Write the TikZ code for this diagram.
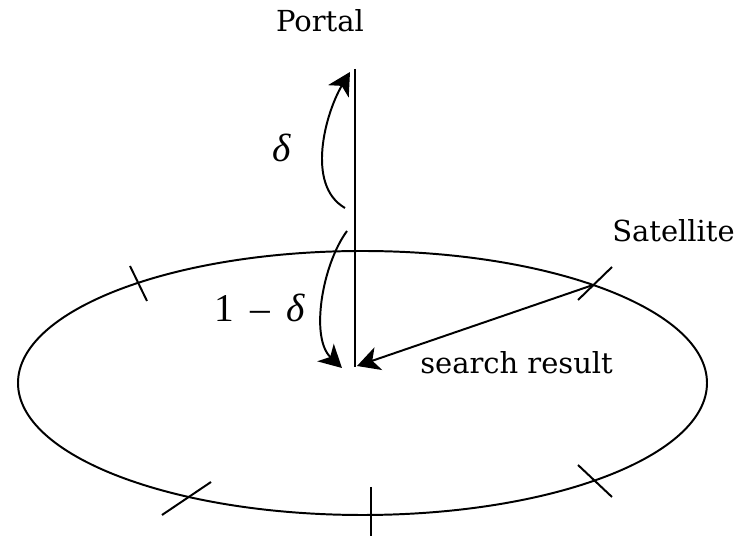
\documentclass[tikz,border=0pt]{standalone}
\usepackage{fontspec}
\setmainfont{DejaVu Serif}
\newfontfamily\greekfont{Liberation Serif}
\usepackage{tikz}
\usetikzlibrary{arrows.meta, positioning, calc}

\begin{document}
\begin{tikzpicture}[x=0.025cm, y=-0.025cm,
    lbl/.style={inner sep=0pt, font=\fontsize{20.6}{24}\selectfont},
    dlbl/.style={inner sep=0pt, font=\fontsize{28}{32}\selectfont\greekfont},
    arr/.style={-{Stealth[length=16pt, width=17pt, inset=4.5pt]}, line width=1.4pt},
    tick/.style={line width=1.4pt}
  ]
    \useasboundingbox (0,0) rectangle (752,536);

    \coordinate (top) at (355,69);
    \coordinate (hub) at (355,367);
    \coordinate (hit) at (357,366);
    \coordinate (sat) at (593,285);
    \coordinate (dfrom) at (345,208);
    \coordinate (dto) at (350,72);
    \coordinate (rfrom) at (347,231);
    \coordinate (rto) at (342,368);

    % ring of satellites
    \draw[tick] (362.5,383) ellipse [x radius=344.5, y radius=132];
    \draw[tick] (top) -- (hub);

    % ticks on the ring
    \draw[tick] (130,266) -- (147,301);
    \draw[tick] (578,300) -- (612,267);
    \draw[tick] (162,515) -- (211,482);
    \draw[tick] (371,487) -- (371,536);
    \draw[tick] (578,465) -- (612,497);

    \node[lbl, anchor=base] (portal) at (320,32) {Portal};
    \node[lbl, anchor=base west] (satname) at (612,242) {Satellite};
    \node[lbl, anchor=base west] (result) at (420,374) {search result};
    \node[dlbl, anchor=base west] (up) at (272,162) {\itshape δ};
    \node[dlbl, anchor=base west] (down) at (214,322) {1 \,–\, \itshape δ};

    \draw[arr] (sat) -- (hit);
    \draw[arr] (dfrom) .. controls (305,185) and (326,112) .. (dto);
    \draw[arr] (rfrom) .. controls (322,265) and (310,338) .. (rto);
\end{tikzpicture}
\end{document}
